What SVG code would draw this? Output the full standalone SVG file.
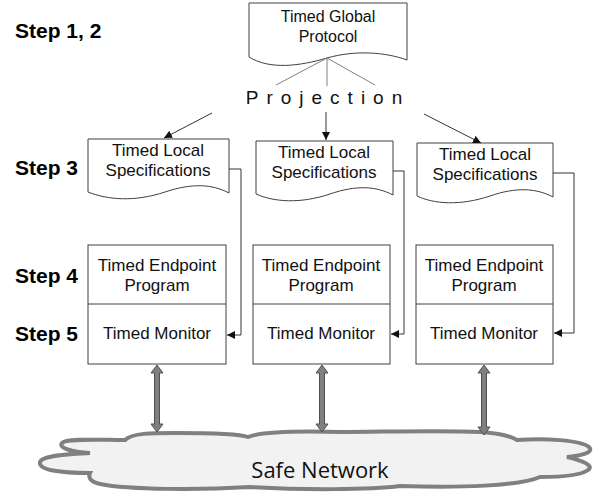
<svg xmlns="http://www.w3.org/2000/svg" width="593" height="494" viewBox="0 0 593 494">
<defs>
<style>
.shape{fill:#fff;stroke:#404040;stroke-width:1}
.t{font-family:"Liberation Sans",Arial,sans-serif;font-size:17px;fill:#111;text-anchor:middle}
.step{font-family:"Liberation Sans",Arial,sans-serif;font-size:21px;font-weight:bold;fill:#000}
.con{fill:none;stroke:#333;stroke-width:1}
.proj{fill:none;stroke:#808080;stroke-width:1}
.dbl{fill:#808080;stroke:#505050;stroke-width:1}
</style>
<marker id="ah" viewBox="0 0 10 10" refX="10" refY="5" markerWidth="8" markerHeight="8" markerUnits="userSpaceOnUse" orient="auto">
<path d="M0,0 L10,5 L0,10 Z" fill="#111"/>
</marker>
</defs>
<rect width="593" height="494" fill="#fff"/>

<g id="steps">
<text class="step" x="15" y="38">Step 1, 2</text>
<text class="step" x="15" y="175">Step 3</text>
<text class="step" x="15" y="283">Step 4</text>
<text class="step" x="15" y="341">Step 5</text>
</g>

<g id="network">
<path d="M90,453 C72,452 58,448 62,443 C66,438 100,440 125,440 C132,433 152,433 175,433 C205,433 240,434 248,437 C262,431 300,431 340,432 C380,432 440,430 480,432 C500,433 512,437 517,440 C545,438 580,440 589,447 C595,453 578,456 567,457 C580,460 595,465 588,470 C580,476 560,477 540,477 C520,486 460,488 400,486 C370,490 300,490 250,487 C200,490 130,490 100,484 C90,482 88,477 90,473 C60,473 38,470 40,462 C42,455 70,454 90,453 Z" fill="#f2f2f2" stroke="#808080" stroke-width="4"/>
<text x="320" y="478" font-family="'Open Sans','Liberation Sans',sans-serif" font-size="22" fill="#111" text-anchor="middle">Safe Network</text>
</g>

<g id="global">
<path class="shape" d="M249,57 C270,70 300,66 327,58 C355,50 385,52 407,60 V3 H249 Z"/>
<text class="t" x="328" y="22" style="font-size:16px">Timed Global</text>
<text class="t" x="328" y="42" style="font-size:16px">Protocol</text>
</g>

<g id="projection">
<path class="proj" d="M327,58 L276,85 M327,58 L327,86 M327,58 L375,85"/>
<text x="328" y="104" font-family="'Liberation Sans',Arial,sans-serif" font-size="19" letter-spacing="8" fill="#111" text-anchor="middle">Projection</text>
</g>

<g id="local1">
<path class="shape" d="M88,139 H229 V193 C212,184 192,183 165,192 C135,202 108,200 88,192 Z"/>
<text class="t" x="158" y="156">Timed Local</text>
<text class="t" x="158" y="176">Specifications</text>
</g>
<g id="local2">
<path class="shape" d="M256,141 H393 V195 C376,186 356,185 330,194 C300,204 274,202 256,194 Z"/>
<text class="t" x="324" y="158">Timed Local</text>
<text class="t" x="324" y="178">Specifications</text>
</g>
<g id="local3">
<path class="shape" d="M417,143 H553 V197 C536,188 516,187 490,196 C460,206 434,204 417,196 Z"/>
<text class="t" x="485" y="160">Timed Local</text>
<text class="t" x="485" y="180">Specifications</text>
</g>

<g id="endpoint1">
<rect class="shape" x="88" y="245" width="138" height="119"/>
<line class="shape" x1="88" y1="304" x2="226" y2="304"/>
<text class="t" x="157" y="271">Timed Endpoint</text>
<text class="t" x="157" y="291">Program</text>
<text class="t" x="157" y="339">Timed Monitor</text>
</g>
<g id="endpoint2">
<rect class="shape" x="253" y="245" width="137" height="119"/>
<line class="shape" x1="253" y1="304" x2="390" y2="304"/>
<text class="t" x="321" y="271">Timed Endpoint</text>
<text class="t" x="321" y="291">Program</text>
<text class="t" x="321" y="339">Timed Monitor</text>
</g>
<g id="endpoint3">
<rect class="shape" x="416" y="245" width="137" height="119"/>
<line class="shape" x1="416" y1="304" x2="553" y2="304"/>
<text class="t" x="484" y="271">Timed Endpoint</text>
<text class="t" x="484" y="291">Program</text>
<text class="t" x="484" y="339">Timed Monitor</text>
</g>

<g id="connectors">
<line class="con" x1="212" y1="113" x2="164" y2="138" marker-end="url(#ah)"/>
<line class="con" x1="326" y1="112" x2="326" y2="140" marker-end="url(#ah)"/>
<line class="con" x1="424" y1="114" x2="481" y2="143" marker-end="url(#ah)"/>
<polyline class="con" points="229,169 241,169 241,335 227,335" marker-end="url(#ah)"/>
<polyline class="con" points="393,171 404,171 404,334 391,334" marker-end="url(#ah)"/>
<polyline class="con" points="553,173 574,173 574,333 554,333" marker-end="url(#ah)"/>
<path class="dbl" d="M157,365 L163,373 L159.5,373 L159.5,424 L163,424 L157,432 L151,424 L154.5,424 L154.5,373 L151,373 Z"/>
<path class="dbl" d="M322,365 L328,373 L324.5,373 L324.5,424 L328,424 L322,432 L316,424 L319.5,424 L319.5,373 L316,373 Z"/>
<path class="dbl" d="M484,365 L490,373 L486.5,373 L486.5,427 L490,427 L484,435 L478,427 L481.5,427 L481.5,373 L478,373 Z"/>
</g>
</svg>
